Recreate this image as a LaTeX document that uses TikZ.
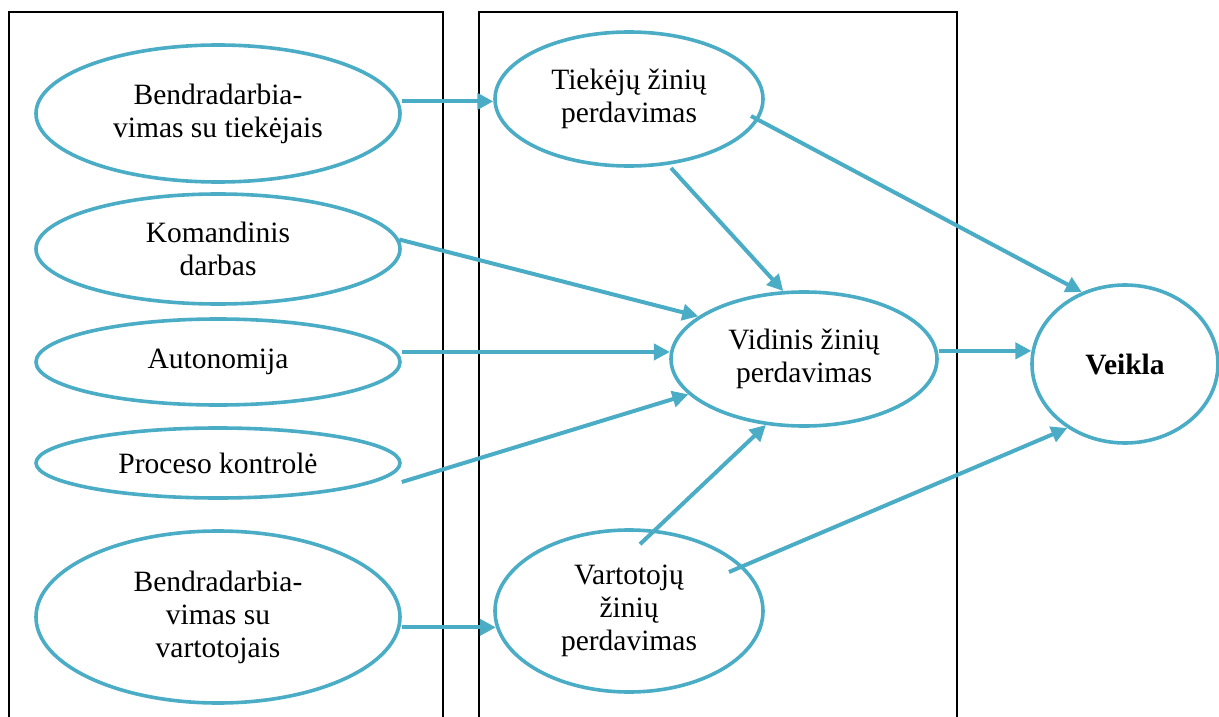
\documentclass[tikz,border=0pt]{standalone}
\usepackage{fontspec}
\setmainfont{Liberation Serif}
\usetikzlibrary{arrows.meta,shapes.geometric}
\definecolor{linkblue}{HTML}{4BACC6}
\begin{document}
\begin{tikzpicture}[x=1pt,y=-1pt,
  oval/.style={ellipse, draw=linkblue, line width=3.6pt, inner sep=0pt, align=center,
    font=\fontsize{29.5}{33}\selectfont},
  link/.style={draw=linkblue, line width=4pt, -{Triangle[length=16pt,width=16pt]}},
  frame/.style={draw=black, line width=2pt, rectangle, inner sep=0pt, outer sep=0pt,
    anchor=north west, minimum height=740pt}]
\useasboundingbox (0,0) rectangle (1219,717);
\clip (0,0) rectangle (1219,717);

% two column frames, open at the bottom of the page
\node[frame, minimum width=434pt] (left) at (9,12) {};
\node[frame, minimum width=478pt] (mid) at (479,12) {};

% factors
\node[oval, minimum width=364pt, minimum height=137pt] (bt) at (218,113.5) {Bendradarbia-\\vimas su tiekėjais};
\node[oval, minimum width=364pt, minimum height=110pt] (kd) at (218,249) {Komandinis\\darbas};
\node[oval, minimum width=364pt, minimum height=86pt] (au) at (218,362) {Autonomija};
\node[oval, minimum width=364pt, minimum height=70pt] (pk) at (218,463) {Proceso kontrolė};
\node[oval, minimum width=364pt, minimum height=172pt] (bv) at (218,617) {Bendradarbia-\\vimas su\\vartotojais};

% knowledge transfer
\node[oval, minimum width=268pt, minimum height=134pt] (tz) at (629,99) {Tiekėjų žinių\\perdavimas};
\node[oval, minimum width=266pt, minimum height=134pt] (vz) at (804,359) {Vidinis žinių\\perdavimas};
\node[oval, minimum width=268pt, minimum height=162pt] (vt) at (629,611) {Vartotojų\\žinių\\perdavimas};

% outcome
\node[oval, minimum width=186pt, minimum height=158pt,
  font=\fontsize{29.5}{33}\selectfont\bfseries] (ve) at (1125,364) {Veikla};

% connectors
\draw[link] (bt.east |- tz.181) -- (tz.181);
\draw[link] (kd.3) -- (vz.158);
\draw[link] (au.east |- vz.177) -- (vz.177);
\draw[link] ([yshift=-19pt]pk.east) -- (vz.197);
\draw[link] (bv.east |- vt.187) -- (vt.187);
\draw[link] ([xshift=42pt,yshift=-69pt]tz.center) -- (vz.107);
\draw[link] ([xshift=122pt,yshift=-17pt]tz.center) -- (ve.121);
\draw[link] (vz.east |- ve.172) -- (ve.172);
\draw[link] ([xshift=11pt,yshift=-16pt]vt.north) -- (vz.240);
\draw[link] ([xshift=100pt,yshift=39pt]vt.center) -- (ve.228);
\end{tikzpicture}
\end{document}
